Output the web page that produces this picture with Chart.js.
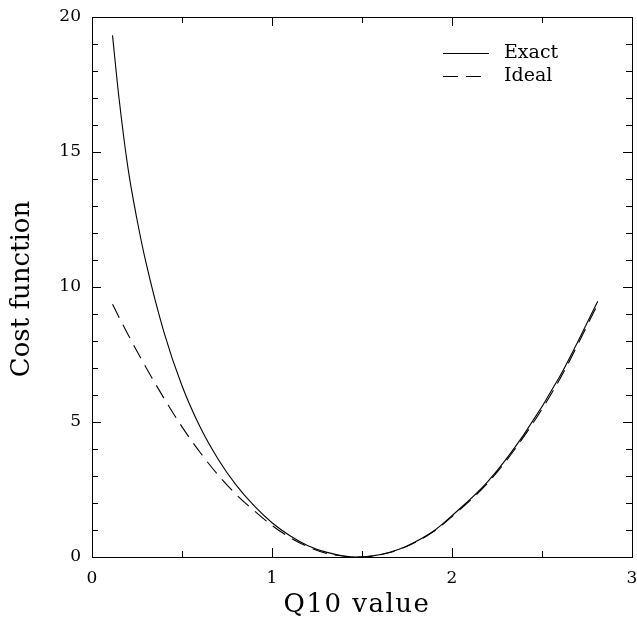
<!DOCTYPE html>
<html>
<head>
<meta charset="utf-8">
<script src="https://cdn.jsdelivr.net/npm/chart.js@4.4.1/dist/chart.umd.min.js"></script>
<style>
html,body{margin:0;padding:0;background:#fff;}
#wrap{width:637px;height:617px;}
</style>
</head>
<body>
<div id="wrap"><canvas id="c" width="637" height="617"></canvas></div>
<script>
// ---- data ----
const xValues = [0.114, 0.15, 0.2, 0.25, 0.3, 0.4, 0.5, 0.6, 0.7, 0.8, 0.9, 1.0, 1.1, 1.2, 1.3, 1.4, 1.47, 1.55, 1.65, 1.75, 1.9, 2.0, 2.2, 2.4, 2.6, 2.81];
const exactValues = [19.32, 17.0, 14.4, 12.5, 10.9, 8.32, 6.34, 4.82, 3.63, 2.67, 1.90, 1.27, 0.79, 0.42, 0.18, 0.04, 0.0, 0.034, 0.17, 0.41, 0.97, 1.53, 2.8, 4.54, 6.7, 9.47];
const idealValues = [9.36, 8.88, 8.24, 7.62, 7.02, 5.88, 4.82, 3.88, 3.04, 2.32, 1.72, 1.17, 0.72, 0.38, 0.14, 0.03, 0.0, 0.03, 0.16, 0.4, 0.95, 1.5, 2.75, 4.47, 6.6, 9.37];
const seriesNames = ['Exact', 'Ideal'];
const xTickLabels = [0, 1, 2, 3];
const yTickLabels = [0, 5, 10, 15, 20];
const xTitle = 'Q10 value';
const yTitle = 'Cost function';

const serif = '"DejaVu Serif", serif';

const framePlugin = {
  id: 'frame',
  afterDraw(chart) {
    const {ctx, chartArea: a, scales: {x, y}} = chart;
    ctx.save();
    ctx.strokeStyle = '#000';
    ctx.lineWidth = 1;
    ctx.strokeRect(Math.round(a.left) + 0.5, Math.round(a.top) + 0.5,
                   Math.round(a.right - a.left), Math.round(a.bottom - a.top));
    ctx.beginPath();
    // x ticks (major every 1, minor every 0.5), inward on bottom and top
    for (let v = 0; v <= 3.0001; v += 0.5) {
      const px = Math.round(x.getPixelForValue(v)) + 0.5;
      const len = Math.abs(v - Math.round(v)) < 1e-6 ? 9 : 6;
      ctx.moveTo(px, a.bottom); ctx.lineTo(px, a.bottom - len);
      ctx.moveTo(px, a.top); ctx.lineTo(px, a.top + len);
    }
    // y ticks (major every 5, minor every 1)
    for (let v = 0; v <= 20.0001; v += 1) {
      const py = Math.round(y.getPixelForValue(v)) + 0.5;
      const len = v % 5 === 0 ? 9 : 6;
      ctx.moveTo(a.left, py); ctx.lineTo(a.left + len, py);
      ctx.moveTo(a.right, py); ctx.lineTo(a.right - len, py);
    }
    ctx.stroke();

    // axis titles
    ctx.fillStyle = '#000';
    ctx.font = '26px ' + serif;
    ctx.textAlign = 'center';
    ctx.textBaseline = 'middle';
    ctx.letterSpacing = '1.5px';
    ctx.fillText(xTitle, (a.left + a.right) / 2 - 5, 605);
    ctx.letterSpacing = '0px';
    ctx.save();
    ctx.translate(22.5, (a.top + a.bottom) / 2 + 2);
    ctx.rotate(-Math.PI / 2);
    ctx.fillText(yTitle, 0, 0);
    ctx.restore();

    // legend
    const ds = chart.data.datasets;
    ctx.font = '19px ' + serif;
    ctx.textAlign = 'left';
    const ly = [53.5, 76.5];
    ds.forEach((d, i) => {
      ctx.beginPath();
      ctx.setLineDash(d.borderDash || []);
      ctx.lineWidth = 1;
      ctx.moveTo(443, ly[i]); ctx.lineTo(489, ly[i]);
      ctx.stroke();
      ctx.setLineDash([]);
      ctx.fillText(d.label, 504, ly[i]);
    });
    ctx.restore();
  }
};

new Chart(document.getElementById('c'), {
  type: 'line',
  data: {
    datasets: [
      {
        label: seriesNames[0],
        data: xValues.map((v, i) => ({x: v, y: exactValues[i]})),
        borderColor: '#000', borderWidth: 1.1, pointRadius: 0,
        cubicInterpolationMode: 'monotone', fill: false
      },
      {
        label: seriesNames[1],
        data: xValues.map((v, i) => ({x: v, y: idealValues[i]})),
        borderColor: '#000', borderWidth: 1.1, pointRadius: 0, borderDash: [15, 8],
        cubicInterpolationMode: 'monotone', fill: false
      }
    ]
  },
  options: {
    responsive: false,
    animation: false,
    devicePixelRatio: 1,
    layout: {padding: {left: 0, right: 5, top: 17, bottom: 0}},
    plugins: {legend: {display: false}, tooltip: {enabled: false}},
    scales: {
      x: {
        type: 'linear', min: 0, max: 3,
        afterBuildTicks(s) { s.ticks = xTickLabels.map(v => ({value: v})); },
        afterFit(s) { s.height = 60; s.paddingLeft = 0; s.paddingRight = 0; },
        grid: {display: false, drawTicks: false},
        border: {display: false},
        ticks: {color: '#000', font: {family: serif, size: 17}, padding: 11, maxRotation: 0}
      },
      y: {
        type: 'linear', min: 0, max: 20,
        afterBuildTicks(s) { s.ticks = yTickLabels.map(v => ({value: v})); },
        afterFit(s) { s.width = 92; s.paddingTop = 0; s.paddingBottom = 0; },
        grid: {display: false, drawTicks: false},
        border: {display: false},
        ticks: {color: '#000', font: {family: serif, size: 17}, padding: 11}
      }
    }
  },
  plugins: [framePlugin]
});
</script>
</body>
</html>
